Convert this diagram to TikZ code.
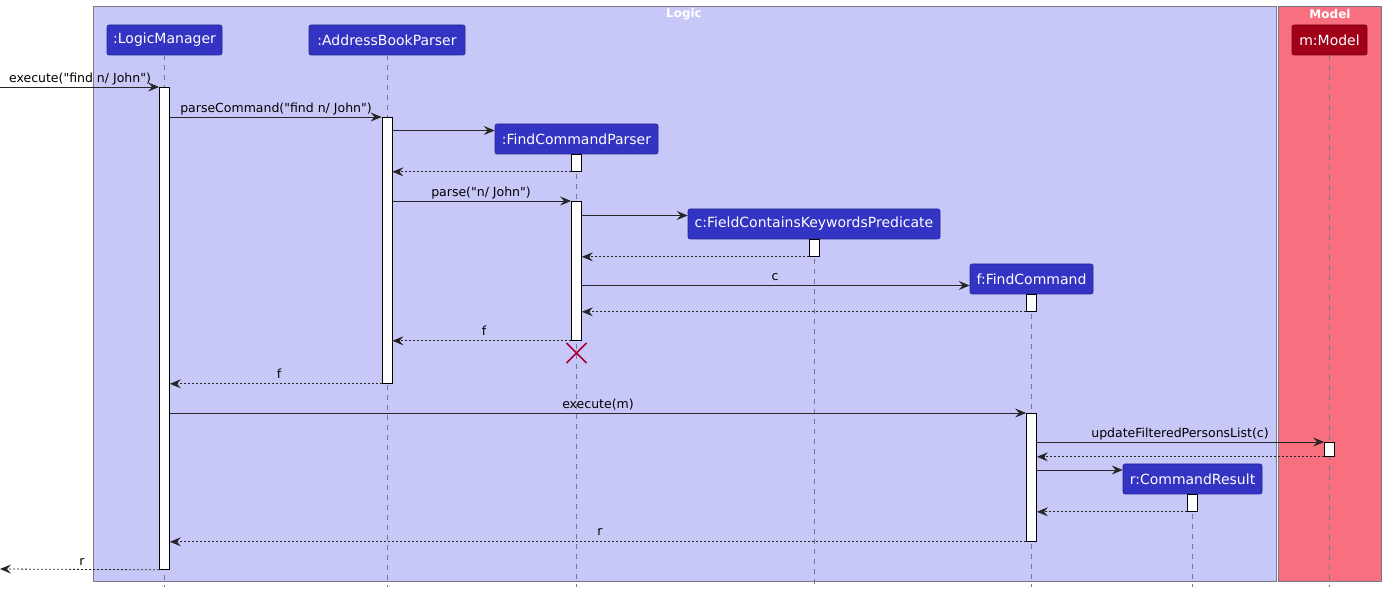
\documentclass[tikz,border=0pt]{standalone}
\usepackage{fontspec}
\setmainfont{DejaVu Sans}
\newfontfamily\umlfont{DejaVu Sans}
\usetikzlibrary{arrows.meta}
\definecolor{logicbg}{HTML}{C8C8F8}
\definecolor{modelbg}{HTML}{F8707F}
\definecolor{partblue}{HTML}{3333C4}
\definecolor{partred}{HTML}{A00018}
\definecolor{framegray}{HTML}{77778A}
\definecolor{killred}{HTML}{A80036}
\tikzset{
  part/.style={draw=partblue!75!black, fill=partblue, text=white, rounded corners=2pt,
    minimum height=30pt, inner sep=0pt, font=\umlfont\fontsize{14}{16}\selectfont, line width=0.6pt},
  modelpart/.style={part, draw=partred!75!black, fill=partred},
  act/.style={draw=black, fill=white, minimum width=10pt, line width=0.8pt, inner sep=0pt, anchor=north},
  msg/.style={-{Stealth[length=11pt,width=9pt,inset=4pt]}, line width=0.8pt, draw=black!85},
  ret/.style={msg, dash pattern=on 2pt off 2pt},
  lbl/.style={font=\umlfont\fontsize{12.5}{14}\selectfont, anchor=base, inner sep=0pt},
  life/.style={draw=framegray, dash pattern=on 5pt off 5pt, line width=0.7pt},
  frame/.style={draw=framegray, line width=0.8pt},
  ftitle/.style={text=white, font=\umlfont\bfseries\fontsize{12}{14}\selectfont, inner sep=0pt}
}
\begin{document}
\begin{tikzpicture}[x=1pt,y=-1pt]
\useasboundingbox (0,0) rectangle (1385,593);
% frames
\draw[frame, fill=logicbg] (93,6) rectangle (1276.5,581.5);
\draw[frame, fill=modelbg] (1278.5,6) rectangle (1381,581.5);
\node[ftitle] (tLogic) at (684,14) {Logic};
\node[ftitle] (tModel) at (1330,14) {Model};
% participants
\node[part, minimum width=115pt] (LM) at (164.5,40) {:LogicManager};
\node[part, minimum width=156pt] (AB) at (387,40) {:AddressBookParser};
\node[part, minimum width=163pt] (FP) at (576.5,139) {:FindCommandParser};
\node[part, minimum width=252pt] (PR) at (814,224) {c:FieldContainsKeywordsPredicate};
\node[part, minimum width=123pt] (FC) at (1031.5,279) {f:FindCommand};
\node[part, minimum width=139pt] (CR) at (1192.5,479) {r:CommandResult};
\node[modelpart, minimum width=75pt] (MD) at (1329.5,40) {m:Model};
% lifeline ends
\coordinate (eLM) at (164.5,587);
\coordinate (eAB) at (387,587);
\coordinate (eFP) at (576.5,587);
\coordinate (ePR) at (814,587);
\coordinate (eFC) at (1031.5,587);
\coordinate (eCR) at (1192.5,587);
\coordinate (eMD) at (1329.5,587);
\draw[life] (LM.south) -- (eLM);
\draw[life] (AB.south) -- (eAB);
\draw[life] (FP.south) -- (eFP);
\draw[life] (PR.south) -- (ePR);
\draw[life] (FC.south) -- (eFC);
\draw[life] (CR.south) -- (eCR);
\draw[life] (MD.south) -- (eMD);
% activations
\node[act, minimum height=482pt] (aLM) at (164.5,87) {};
\node[act, minimum height=266pt] (aAB) at (387,117) {};
\node[act, minimum height=17pt] (aFP1) at (576.5,154) {};
\node[act, minimum height=139pt] (aFP2) at (576.5,201) {};
\node[act, minimum height=17pt] (aPR) at (814,239) {};
\node[act, minimum height=17pt] (aFC1) at (1031.5,294) {};
\node[act, minimum height=128pt] (aFC2) at (1031.5,413) {};
\node[act, minimum height=14pt] (aMD) at (1329.5,442) {};
\node[act, minimum height=17pt] (aCR) at (1192.5,494) {};
% create-message heights
\coordinate (cFP) at (495,130.5);
\coordinate (cPR) at (688,215.5);
\coordinate (cFC) at (970,285.5);
\coordinate (cCR) at (1123,470);
% external endpoints
\coordinate (ext1) at (0,87);
\coordinate (ext2) at (0,569);
% messages
\draw[msg] (ext1) -- (aLM.north west);
\node[lbl] (l1) at (80,83) {execute("find n/ John")};
\draw[msg] (aLM.east |- aAB.north) -- (aAB.north west);
\node[lbl] (l2) at (276,113) {parseCommand("find n/ John")};
\draw[msg] (aAB.east |- cFP) -- (FP.west |- cFP);
\draw[ret] (aFP1.south west) -- (aAB.east |- aFP1.south);
\draw[msg] (aAB.east |- aFP2.north) -- (aFP2.north west);
\node[lbl] (l3) at (481,197) {parse("n/ John")};
\draw[msg] (aFP2.east |- cPR) -- (PR.west |- cPR);
\draw[ret] (aPR.south west) -- (aFP2.east |- aPR.south);
\draw[msg] (aFP2.east |- cFC) -- (FC.west |- cFC);
\node[lbl] (l4) at (775,281) {c};
\draw[ret] (aFC1.south west) -- (aFP2.east |- aFC1.south);
\draw[ret] (aFP2.south west) -- (aAB.east |- aFP2.south);
\node[lbl] (l5) at (484,336) {f};
\coordinate (xk) at (576.5,353);
\draw[killred, line width=1.5pt] ([shift={(-10,-10)}]xk) -- ([shift={(10,10)}]xk)
  ([shift={(-10,10)}]xk) -- ([shift={(10,-10)}]xk);
\draw[ret] (aAB.south west) -- (aLM.east |- aAB.south);
\node[lbl] (l6) at (279,379) {f};
\draw[msg] (aLM.east |- aFC2.north) -- (aFC2.north west);
\node[lbl] (l7) at (598,409) {execute(m)};
\draw[msg] (aFC2.east |- aMD.north) -- (aMD.north west);
\node[lbl] (l8) at (1180,438) {updateFilteredPersonsList(c)};
\draw[ret] (aMD.south west) -- (aFC2.east |- aMD.south);
\draw[msg] (aFC2.east |- cCR) -- (CR.west |- cCR);
\draw[ret] (aCR.south west) -- (aFC2.east |- aCR.south);
\draw[ret] (aFC2.south west) -- (aLM.east |- aFC2.south);
\node[lbl] (l9) at (600,536) {r};
\draw[ret] (aLM.south west) -- (ext2);
\node[lbl] (l10) at (82,565) {r};
\end{tikzpicture}
\end{document}
